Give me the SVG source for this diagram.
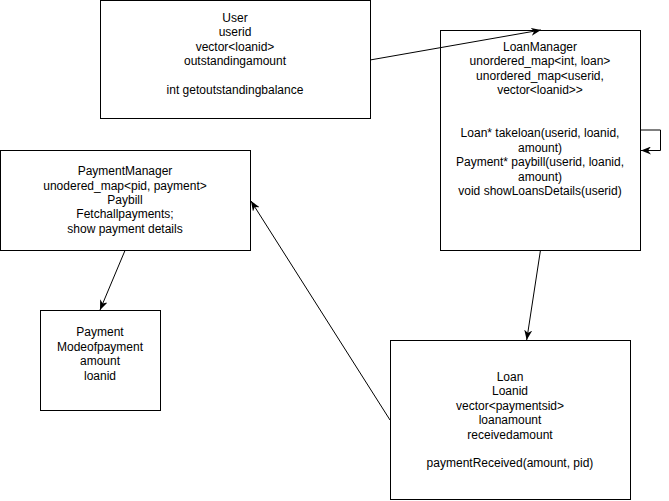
<svg xmlns="http://www.w3.org/2000/svg" width="669" height="501" viewBox="0 0 669 501">
<style>
.box{fill:#fff;stroke:#000;stroke-width:1}
.t{font-family:"Liberation Sans",Arial,sans-serif;font-size:12px;fill:#000;text-anchor:middle}
.c{fill:none;stroke:#000;stroke-width:1}
</style>
<defs>
<marker id="arr" markerUnits="userSpaceOnUse" markerWidth="10" markerHeight="8" refX="10" refY="4" orient="auto" viewBox="0 0 10 8">
<path d="M0,0 L10,4 L0,8 L3,4 Z" fill="#000"/>
</marker>
</defs>
<rect width="669" height="501" fill="#fff"/>
<g id="user">
<rect class="box" x="100.5" y="0.5" width="270" height="118"/>
<text class="t" x="235" y="22">User</text>
<text class="t" x="235" y="36.4">userid</text>
<text class="t" x="235" y="50.8">vector&lt;loanid&gt;</text>
<text class="t" x="235" y="65.2">outstandingamount</text>
<text class="t" x="235" y="94">int getoutstandingbalance</text>
</g>
<g id="loanmanager">
<rect class="box" x="440.5" y="30.5" width="200" height="220"/>
<text class="t" x="540" y="51">LoanManager</text>
<text class="t" x="540" y="65.4">unordered_map&lt;int, loan&gt;</text>
<text class="t" x="540" y="79.8">unordered_map&lt;userid,</text>
<text class="t" x="540" y="94.2">vector&lt;loanid&gt;&gt;</text>
<text class="t" x="540" y="137.4">Loan* takeloan(userid, loanid,</text>
<text class="t" x="540" y="151.8">amount)</text>
<text class="t" x="540" y="166.2">Payment* paybill(userid, loanid,</text>
<text class="t" x="540" y="180.6">amount)</text>
<text class="t" x="540" y="195">void showLoansDetails(userid)</text>
</g>
<g id="paymentmanager">
<rect class="box" x="0.5" y="150.5" width="250" height="100"/>
<text class="t" x="125" y="175.2">PaymentManager</text>
<text class="t" x="125" y="189.6">unodered_map&lt;pid, payment&gt;</text>
<text class="t" x="125" y="204">Paybill</text>
<text class="t" x="125" y="218.4">Fetchallpayments;</text>
<text class="t" x="125" y="232.8">show payment details</text>
</g>
<g id="payment">
<rect class="box" x="40.5" y="310.5" width="120" height="100"/>
<text class="t" x="100" y="336.4">Payment</text>
<text class="t" x="100" y="350.8">Modeofpayment</text>
<text class="t" x="100" y="365.2">amount</text>
<text class="t" x="100" y="379.6">loanid</text>
</g>
<g id="loan">
<rect class="box" x="390.5" y="340.5" width="240" height="159"/>
<text class="t" x="510" y="381">Loan</text>
<text class="t" x="510" y="395.4">Loanid</text>
<text class="t" x="510" y="409.8">vector&lt;paymentsid&gt;</text>
<text class="t" x="510" y="424.2">loanamount</text>
<text class="t" x="510" y="438.6">receivedamount</text>
<text class="t" x="510" y="467.4">paymentReceived(amount, pid)</text>
</g>
<g id="connectors">
<path class="c" d="M370,60 L541,30" marker-end="url(#arr)"/>
<path class="c" d="M640.5,130 H660.5 V150.5 H641" marker-end="url(#arr)"/>
<path class="c" d="M540.5,250 L526.7,340" marker-end="url(#arr)"/>
<path class="c" d="M125,250.5 L100,310" marker-end="url(#arr)"/>
<path class="c" d="M390,420 L251,201" marker-end="url(#arr)"/>
</g>
</svg>
